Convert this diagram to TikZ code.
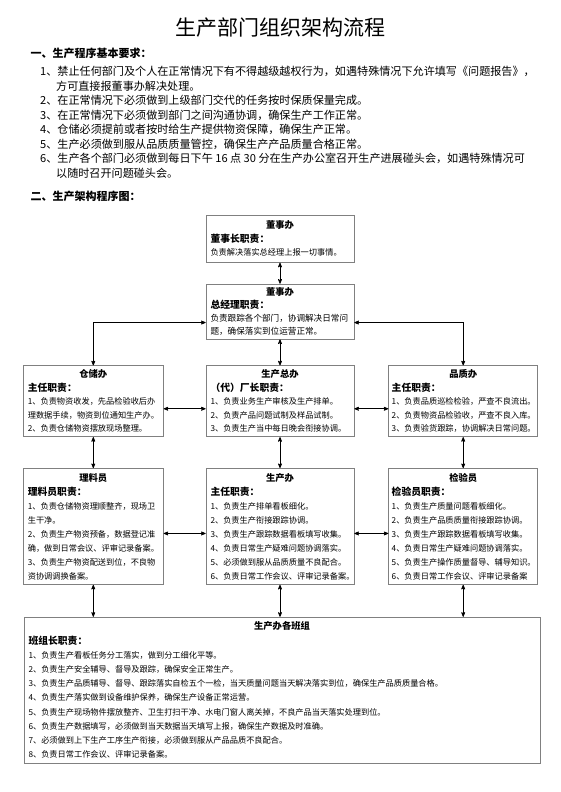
\documentclass[tikz,border=0pt]{standalone}
\usepackage{fontspec}
\setmainfont{Noto Sans CJK SC}
\usetikzlibrary{arrows,positioning}

\newcommand{\deptname}[1]{\hfill{\bfseries\fontsize{9.3}{13.5}\selectfont #1}\hfill\null}
\newcommand{\dutyname}[1]{{\bfseries\fontsize{9.8}{13.5}\selectfont #1}}

\begin{document}
\begin{tikzpicture}[x=1pt,y=-1pt,>=stealth',
	dept/.style={draw=black!50,line width=0.7pt,align=left,inner xsep=4.5pt,inner ysep=3pt,font=\fontsize{8.2}{13.5}\selectfont},
	tall/.style={dept,minimum height=116pt,font=\fontsize{8.2}{14}\selectfont},
	link/.style={<->,line width=0.7pt}]

	\fill[white] (0,0) rectangle (560,792);
	\useasboundingbox (0,0) rectangle (560,792);

	% heading and rules
	\node[font=\fontsize{21}{21}\selectfont] (title) at (280,28) {生产部门组织架构流程};
	\node[anchor=west,font=\bfseries\fontsize{11}{11}\selectfont] (reqhead) at (27,53) {一、生产程序基本要求：};
	\node[anchor=north west,inner sep=0pt,align=left,font=\fontsize{11.1}{14.5}\selectfont] (reqlist) at (40,66) {%
		1、禁止任何部门及个人在正常情况下有不得越级越权行为，如遇特殊情况下允许填写《问题报告》，\\
		\hspace*{16pt}方可直接报董事办解决处理。\\
		2、在正常情况下必须做到上级部门交代的任务按时保质保量完成。\\
		3、在正常情况下必须做到部门之间沟通协调，确保生产工作正常。\\
		4、仓储必须提前或者按时给生产提供物资保障，确保生产正常。\\
		5、生产必须做到服从品质质量管控，确保生产产品质量合格正常。\\
		6、生产各个部门必须做到每日下午 16 点 30 分在生产办公室召开生产进展碰头会，如遇特殊情况可\\
		\hspace*{16pt}以随时召开问题碰头会。};
	\node[anchor=west,font=\bfseries\fontsize{11}{11}\selectfont] (charthead) at (27,196) {二、生产架构程序图：};

	% chart boxes
	\node[dept,text width=139pt,minimum height=47pt,anchor=north] (chair) at (280,215) {%
		\deptname{董事办}\\
		\dutyname{董事长职责：}\\
		负责解决落实总经理上报一切事情。};
	\node[dept,text width=139pt,minimum height=55pt,below=21pt of chair,font=\fontsize{8.6}{13}\selectfont] (manager) {%
		\deptname{董事办}\\
		\dutyname{总经理职责：}\\
		负责跟踪各个部门，协调解决日常问\\
		题，确保落实到位运营正常。};
	\node[dept,text width=139pt,minimum height=71pt,below=26pt of manager] (general) {%
		\deptname{生产总办}\\
		\dutyname{（代）厂长职责：}\\
		1、负责业务生产审核及生产排单。\\
		2、负责产品问题试制及样品试制。\\
		3、负责生产当中每日晚会衔接协调。};
	\node[dept,text width=131pt,minimum height=71pt,left=42pt of general] (store) {%
		\deptname{仓储办}\\
		\dutyname{主任职责：}\\
		1、负责物资收发，先品检验收后办\\
		理数据手续，物资到位通知生产办。\\
		2、负责仓储物资摆放现场整理。};
	\node[dept,text width=143pt,inner xsep=3pt,minimum height=71pt,right=34pt of general] (quality) {%
		\deptname{品质办}\\
		\dutyname{主任职责：}\\
		1、负责品质巡检检验，严查不良流出。\\
		2、负责物资品检验收，严查不良入库。\\
		3、负责验货跟踪，协调解决日常问题。};
	\node[tall,text width=139pt,below=31pt of general] (workshop) {%
		\deptname{生产办}\\
		\dutyname{主任职责：}\\
		1、负责生产排单看板细化。\\
		2、负责生产衔接跟踪协调。\\
		3、负责生产跟踪数据看板填写收集。\\
		4、负责日常生产疑难问题协调落实。\\
		5、必须做到服从品质质量不良配合。\\
		6、负责日常工作会议、评审记录备案。};
	\node[tall,text width=131pt,below=31pt of store] (material) {%
		\deptname{理料员}\\
		\dutyname{理料员职责：}\\
		1、负责仓储物资理顺整齐，现场卫\\
		生干净。\\
		2、负责生产物资预备，数据登记准\\
		确，做到日常会议、评审记录备案。\\
		3、负责生产物资配送到位，不良物\\
		资协调调换备案。};
	\node[tall,text width=143pt,inner xsep=3pt,below=31pt of quality] (inspect) {%
		\deptname{检验员}\\
		\dutyname{检验员职责：}\\
		1、负责生产质量问题看板细化。\\
		2、负责生产品质质量衔接跟踪协调。\\
		3、负责生产跟踪数据看板填写收集。\\
		4、负责日常生产疑难问题协调落实。\\
		5、负责生产操作质量督导、辅导知识。\\
		6、负责日常工作会议、评审记录备案};
	\node[dept,text width=507pt,minimum height=146pt,below=32pt of workshop,xshift=2pt,font=\fontsize{8.2}{14.2}\selectfont] (teams) {%
		\deptname{生产办各班组}\\
		\dutyname{班组长职责：}\\
		1、负责生产看板任务分工落实，做到分工细化平等。\\
		2、负责生产安全辅导、督导及跟踪，确保安全正常生产。\\
		3、负责生产品质辅导、督导、跟踪落实自检五个一检，当天质量问题当天解决落实到位，确保生产品质质量合格。\\
		4、负责生产落实做到设备维护保养，确保生产设备正常运营。\\
		5、负责生产现场物件摆放整齐、卫生打扫干净、水电门窗人离关掉，不良产品当天落实处理到位。\\
		6、负责生产数据填写，必须做到当天数据当天填写上报，确保生产数据及时准确。\\
		7、必须做到上下生产工序生产衔接，必须做到服从产品品质不良配合。\\
		8、负责日常工作会议、评审记录备案。};

	% connectors
	\draw[link] (chair) -- (manager);
	\draw[link] (manager) -- (general);
	\draw[link] ([yshift=-11pt]manager.west) -| (store.north);
	\draw[link] ([yshift=-11pt]manager.east) -| (quality.north);
	\draw[link] ([yshift=-7.5pt]store.east) -- ([yshift=-7.5pt]general.west);
	\draw[link] ([yshift=-7.5pt]general.east) -- ([yshift=-7.5pt]quality.west);
	\draw[link] (store) -- (material);
	\draw[link] (general) -- (workshop);
	\draw[link] (quality) -- (inspect);
	\draw[link] ([yshift=-7pt]material.east) -- ([yshift=-7pt]workshop.west);
	\draw[link] ([yshift=-7pt]workshop.east) -- ([yshift=-7pt]inspect.west);
	\draw[link] (material.south) -- (material.south |- teams.north);
	\draw[link] (workshop.south) -- (workshop.south |- teams.north);
	\draw[link] (inspect.south) -- (inspect.south |- teams.north);
\end{tikzpicture}
\end{document}
